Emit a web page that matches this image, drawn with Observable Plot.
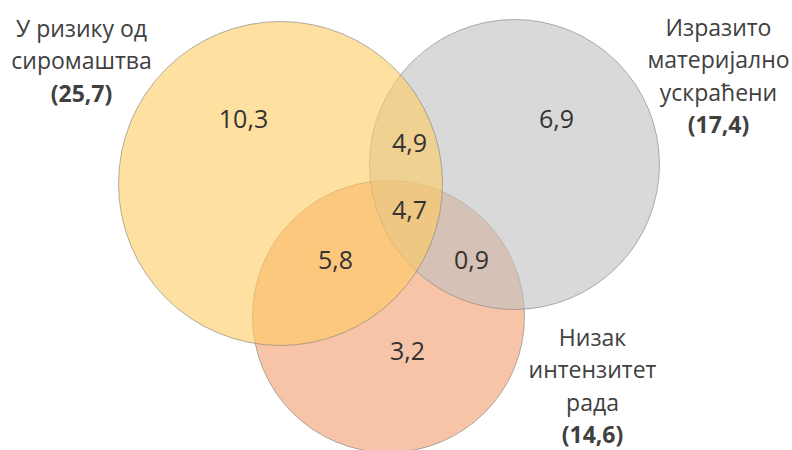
<!DOCTYPE html>
<html><head><meta charset="utf-8">
<script src="https://cdn.jsdelivr.net/npm/d3@7"></script>
<script src="https://cdn.jsdelivr.net/npm/@observablehq/plot@0.6"></script>
<style>html,body{margin:0;padding:0;background:#fff;overflow:hidden}</style>
</head><body><div id="chart"></div>
<script>
// Sets and totals
const setLines = [["У ризику од", "сиромаштва"], ["Изразито", "материјално", "ускраћени"], ["Низак", "интензитет", "рада"]];
const setTotals = [25.7, 17.4, 14.6];
const setColors = ["#FDCB61", "#C0C0C0", "#F39D6E"];
// Region values (only / overlaps)
const regionNames = ["A", "B", "C", "AB", "AC", "BC", "ABC"];
const regionValues = [10.3, 6.9, 3.2, 4.9, 5.8, 0.9, 4.7];

// Layout (diagram units)
const circleX = [280, 514, 388];
const circleY = [183, 164, 316];
const circleR = [162, 145, 136];
const labelX = [81, 718, 592];
const labelY = [29, 28, 338];
const lineGap = 32.5;
const regionX = [243, 556, 407, 409, 335, 471, 409];
const regionY = [119, 119, 351, 143, 260, 260, 210];

const fmt = v => v.toFixed(1).replace(".", ",");

const circles = [2, 1, 0].map(i => ({cx: circleX[i], cy: circleY[i], r: circleR[i], color: setColors[i]}));
const regions = regionNames.map((n, i) => ({name: n, x: regionX[i], y: regionY[i], label: fmt(regionValues[i])}));
const nameRows = [];
const totalRows = [];
setLines.forEach((lines, i) => {
  lines.forEach((t, j) => nameRows.push({x: labelX[i], y: labelY[i] + j * lineGap, text: t}));
  totalRows.push({x: labelX[i], y: labelY[i] + lines.length * lineGap, text: "(" + fmt(setTotals[i]) + ")"});
});

const font = "Open Sans, Noto Sans, sans-serif";
const chart = Plot.plot({
  width: 792, height: 450,
  margin: 0,
  x: {domain: [0, 792], range: [0, 792], axis: null},
  y: {domain: [0, 450], range: [0, 450], axis: null},
  r: {type: "identity"},
  color: {type: "identity"},
  style: {fontFamily: font, background: "#fff"},
  marks: [
    Plot.dot(circles, {x: "cx", y: "cy", r: "r", sort: null, fill: "color", fillOpacity: 0.6, stroke: "#7f7f7f", strokeOpacity: 0.6, strokeWidth: 1}),
    Plot.text(regions, {x: "x", y: "y", text: "label", fontSize: 25, fill: "#333", fontFamily: font}),
    Plot.text(nameRows, {x: "x", y: "y", text: "text", fontSize: 23, fill: "#404040", fontFamily: font}),
    Plot.text(totalRows, {x: "x", y: "y", text: "text", fontSize: 23, fontWeight: "bold", fill: "#404040", fontFamily: font})
  ]
});
document.getElementById("chart").appendChild(chart);
</script>
</body></html>
